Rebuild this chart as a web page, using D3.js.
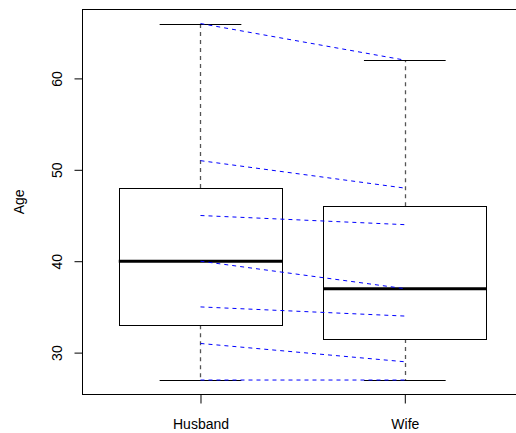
<!DOCTYPE html>
<html>
<head>
<meta charset="utf-8">
<script src="https://cdn.jsdelivr.net/npm/d3@7"></script>
<style>
  html, body { margin: 0; padding: 0; background: #fff; overflow: hidden; }
  svg { display: block; }
  text { font-family: "Liberation Sans", Arial, sans-serif; }
</style>
</head>
<body>
<div id="chart"></div>
<script>
// paired ages, one couple per index
const groups = ['Husband', 'Wife'];
const husband = [66, 51, 45, 40, 35, 31, 27];
const wife = [62, 48, 44, 37, 34, 29, 27];
const yTicks = [30, 40, 50, 60];

const width = 516;
const height = 433;

// Tukey five-number summary (like R's fivenum)
function fivenum(values) {
    const v = values.slice().sort((a, b) => a - b);
    const n = v.length;
    const n4 = Math.floor((n + 3) / 2) / 2;
    const idx = [1, n4, (n + 1) / 2, n + 1 - n4, n];
    return idx.map(i => 0.5 * (v[Math.floor(i) - 1] + v[Math.ceil(i) - 1]));
}

function boxStats(values) {
    const [lo, q1, med, q3, hi] = fivenum(values);
    const iqr = q3 - q1;
    const inside = values.filter(d => d >= q1 - 1.5 * iqr && d <= q3 + 1.5 * iqr);
    return { q1, med, q3, lo: d3.min(inside), hi: d3.max(inside), min: lo, max: hi };
}

const series = [husband, wife];
const stats = series.map(boxStats);

const allValues = husband.concat(wife);
const yMin = d3.min(allValues);
const yMax = d3.max(allValues);
const yPad = (yMax - yMin) * 0.04;

const y = d3.scaleLinear()
    .domain([yMin - yPad, yMax + yPad])
    .range([394.3, 9.3]);

// R pads xlim c(0.5, 2.5) by 4%
const x = d3.scaleLinear()
    .domain([0.42, 2.58])
    .range([82, 523.3]);

const boxHalf = x(1.4) - x(1);     // boxwex 0.8
const capHalf = boxHalf / 2;       // staplewex 0.5

const svg = d3.select('#chart')
    .append('svg')
    .attr('width', width)
    .attr('height', height);

const crisp = v => Math.round(v) + 0.5;

// boxes
stats.forEach((s, i) => {
    const cx = x(i + 1);
    const g = svg.append('g').attr('class', 'box');

    // whiskers
    [[s.q3, s.hi], [s.q1, s.lo]].forEach(([from, to]) => {
        g.append('line')
            .attr('x1', crisp(cx)).attr('x2', crisp(cx))
            .attr('y1', y(from)).attr('y2', y(to))
            .style('stroke', '#555').style('stroke-width', 1.3)
            .style('stroke-dasharray', '4,4');
    });

    // staples
    [s.hi, s.lo].forEach(v => {
        g.append('line')
            .attr('x1', cx - capHalf).attr('x2', cx + capHalf)
            .attr('y1', crisp(y(v))).attr('y2', crisp(y(v)))
            .style('stroke', '#000').style('stroke-width', 1);
    });

    // box
    g.append('rect')
        .attr('x', crisp(cx - boxHalf))
        .attr('y', crisp(y(s.q3)))
        .attr('width', Math.round(2 * boxHalf))
        .attr('height', Math.round(y(s.q1) - y(s.q3)))
        .style('fill', 'none')
        .style('stroke', '#000')
        .style('stroke-width', 1);

    // median
    g.append('line')
        .attr('x1', cx - boxHalf).attr('x2', cx + boxHalf)
        .attr('y1', y(s.med)).attr('y2', y(s.med))
        .style('stroke', '#000').style('stroke-width', 3);
});

// paired lines husband -> wife
svg.append('g')
    .attr('class', 'pairs')
    .selectAll('line')
    .data(husband.map((h, i) => [h, wife[i]]))
    .enter()
    .append('line')
    .attr('x1', x(1)).attr('x2', x(2))
    .attr('y1', d => y(d[0]))
    .attr('y2', d => y(d[1]))
    .style('stroke', '#0000ff')
    .style('stroke-width', 1)
    .style('stroke-dasharray', '4,4');

// frame
svg.append('rect')
    .attr('x', 82.5)
    .attr('y', 9.5)
    .attr('width', x.range()[1] - 82)
    .attr('height', 385)
    .style('fill', 'none')
    .style('stroke', '#000')
    .style('stroke-width', 1);

// y axis
const yAxis = svg.append('g')
    .attr('transform', 'translate(82.5,0)')
    .call(d3.axisLeft(y).tickValues(yTicks).tickSize(8).tickSizeOuter(0));
yAxis.select('.domain').remove();
yAxis.selectAll('.tick line').style('stroke', '#000');
yAxis.selectAll('.tick text')
    .attr('x', null).attr('dy', null)
    .attr('transform', 'translate(-21,0) rotate(-90)')
    .attr('text-anchor', 'middle')
    .style('font-size', '14px')
    .style('fill', '#000');

// x axis
const xAxis = svg.append('g')
    .attr('transform', 'translate(0,394.5)')
    .call(d3.axisBottom(x).tickValues([1, 2]).tickFormat(d => groups[d - 1]).tickSize(9).tickSizeOuter(0));
xAxis.select('.domain').remove();
xAxis.selectAll('.tick line').style('stroke', '#000');
xAxis.selectAll('.tick text')
    .attr('y', 34).attr('dy', null)
    .style('font-size', '14px')
    .style('fill', '#000');

// y label
svg.append('text')
    .attr('transform', `translate(24,${(9.3 + 394.3) / 2}) rotate(-90)`)
    .attr('text-anchor', 'middle')
    .style('font-size', '14px')
    .text('Age');
</script>
</body>
</html>
